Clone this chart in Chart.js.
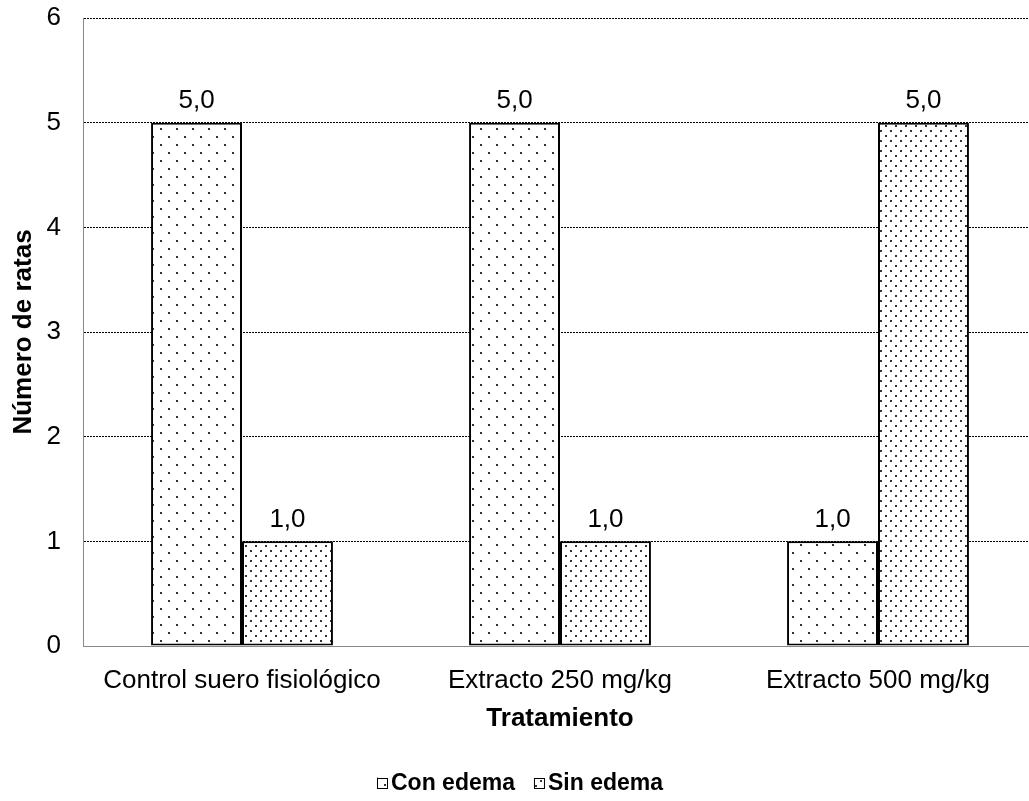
<!DOCTYPE html>
<html>
<head>
<meta charset="utf-8">
<script src="https://cdn.jsdelivr.net/npm/chart.js@4.4.1/dist/chart.umd.min.js"></script>
<style>
  html, body { margin: 0; padding: 0; background: #fff; overflow: hidden; }
  #wrap { width: 1040px; height: 801px; }
</style>
</head>
<body>
<div id="wrap"><canvas id="c" width="1040" height="801"></canvas></div>
<script>
// Treatments and number of rats per outcome
const categories = ['Control suero fisiológico', 'Extracto 250 mg/kg', 'Extracto 500 mg/kg'];
const conEdema = [5, 5, 1];
const sinEdema = [1, 1, 5];
const seriesNames = ['Con edema', 'Sin edema'];
const yTicks = [0, 1, 2, 3, 4, 5, 6];

const FONT = "'Liberation Sans', Arial, sans-serif";

// Dotted fill patterns for the bars
function dotPattern(tile, dots, color) {
  const c = document.createElement('canvas');
  c.width = tile; c.height = tile;
  const g = c.getContext('2d');
  g.fillStyle = '#fff';
  g.fillRect(0, 0, tile, tile);
  g.fillStyle = color;
  dots.forEach(([x, y]) => g.fillRect(x, y, 2, 2));
  return document.getElementById('c').getContext('2d').createPattern(c, 'repeat');
}
const sparse = dotPattern(16, [[0, 0], [8, 8]], '#333');
const dense = dotPattern(10, [[0, 0], [5, 5]], '#333');

// Value labels above each bar, decimal comma
const valueLabels = {
  id: 'valueLabels',
  afterDatasetsDraw(chart) {
    const ctx = chart.ctx;
    ctx.save();
    ctx.font = '26px ' + FONT;
    ctx.fillStyle = '#000';
    ctx.textAlign = 'center';
    ctx.textBaseline = 'middle';
    chart.data.datasets.forEach((ds, i) => {
      chart.getDatasetMeta(i).data.forEach((bar, j) => {
        const txt = ds.data[j].toFixed(1).replace('.', ',');
        ctx.fillText(txt, bar.x, bar.y - 22);
      });
    });
    ctx.restore();
  }
};

// Compact legend row: small patterned square right next to each name
const bottomLegend = {
  id: 'bottomLegend',
  afterDraw(chart) {
    const ctx = chart.ctx;
    const box = 11, gap = 3, itemGap = 19, y = 783;
    ctx.save();
    ctx.font = 'bold 23px ' + FONT;
    ctx.textBaseline = 'middle';
    const items = chart.data.datasets.map(ds => ({ ds, w: ctx.measureText(ds.label).width }));
    const total = items.reduce((s, it) => s + box + gap + it.w, 0) + itemGap * (items.length - 1);
    let x = chart.width / 2 - total / 2;
    items.forEach(({ ds, w }) => {
      ctx.fillStyle = ds.backgroundColor;
      ctx.fillRect(x, y - box / 2, box, box);
      ctx.strokeStyle = '#000';
      ctx.lineWidth = 1;
      ctx.strokeRect(x + 0.5, Math.round(y - box / 2) + 0.5, box - 1, box - 1);
      ctx.fillStyle = '#000';
      ctx.fillText(ds.label, x + box + gap, y + 1);
      x += box + gap + w + itemGap;
    });
    ctx.restore();
  }
};

new Chart(document.getElementById('c'), {
  type: 'bar',
  data: {
    labels: categories,
    datasets: [
      { label: seriesNames[0], data: conEdema, backgroundColor: sparse, borderColor: '#000', borderWidth: 2, borderSkipped: false },
      { label: seriesNames[1], data: sinEdema, backgroundColor: dense, borderColor: '#000', borderWidth: 2, borderSkipped: false }
    ]
  },
  options: {
    responsive: false,
    animation: false,
    devicePixelRatio: 1,
    layout: { padding: { top: 18, right: 3, left: 8, bottom: 40 } },
    datasets: { bar: { categoryPercentage: 0.572, barPercentage: 1 } },
    plugins: {
      legend: { display: false },
      tooltip: { enabled: false }
    },
    scales: {
      x: {
        afterFit(scale) { scale.height = 115; },
        grid: { display: false, drawTicks: false },
        border: { color: '#888', width: 1 },
        ticks: { font: { family: FONT, size: 26 }, color: '#000', padding: 19, maxRotation: 0 },
        title: { display: true, text: 'Tratamiento', font: { family: FONT, size: 26, weight: 'bold' }, color: '#000', padding: { top: 0, bottom: 27 } }
      },
      y: {
        min: 0, max: 6,
        afterBuildTicks(scale) { scale.ticks = yTicks.map(v => ({ value: v })); },
        afterFit(scale) {
          scale.width = 75;
          scale.paddingTop = 0;
          scale.paddingBottom = 0;
        },
        grid: {
          drawTicks: false,
          color: (ctx) => ctx.tick.value === 0 ? 'rgba(0,0,0,0)' : '#000',
          lineWidth: 1
        },
        border: { color: '#888', width: 1, dash: [2, 1] },
        ticks: { font: { family: FONT, size: 26 }, color: '#000', padding: 22 },
        title: { display: true, text: 'Número de ratas', font: { family: FONT, size: 26, weight: 'bold' }, color: '#000', padding: 0 }
      }
    }
  },
  plugins: [valueLabels, bottomLegend]
});
</script>
</body>
</html>
